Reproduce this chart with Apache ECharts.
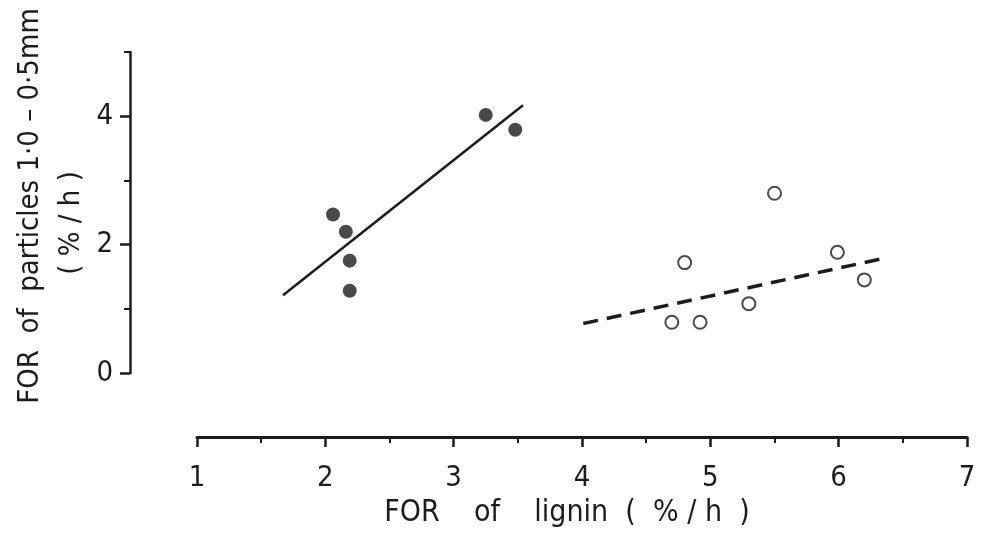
<!DOCTYPE html>
<html>
<head>
<meta charset="utf-8">
<script src="https://cdn.jsdelivr.net/npm/echarts@6/dist/echarts.min.js"></script>
<style>
html,body{margin:0;padding:0;background:#fff;}
#c{width:981px;height:540px;}
</style>
</head>
<body>
<div id="c"></div>
<script>
// Data
const filledX = [2.06, 2.16, 2.19, 2.19, 3.25, 3.48];
const filledY = [2.47, 2.20, 1.75, 1.28, 4.02, 3.79];
const openX = [4.70, 4.92, 4.80, 5.30, 5.50, 5.99, 6.20];
const openY = [0.79, 0.79, 1.72, 1.08, 2.80, 1.88, 1.45];
const solidLineX = [1.67, 3.54];
const solidLineY = [1.21, 4.17];
const dashLineX = [4.01, 6.36];
const dashLineY = [0.77, 1.79];
const xTicks = [1, 2, 3, 4, 5, 6, 7];
const yMajorTicks = [0, 2, 4];
const yMinorTicks = [1, 3, 5];
const xTitle = 'FOR    of    lignin  (  % / h  )';
const yTitle1 = 'FOR  of  particles 1·0 – 0·5mm';
const yTitle2 = '( % / h )';

const ink = '#1c1c1c';
const font = '"DejaVu Sans Condensed", "DejaVu Sans", sans-serif';
const pts = (xs, ys) => xs.map((x, i) => [x, ys[i]]);

const chart = echarts.init(document.getElementById('c'), null, {renderer: 'canvas'});
chart.setOption({
  backgroundColor: '#fff',
  animation: false,
  grid: {left: 197, right: 14, top: 52, bottom: 167, containLabel: false},
  xAxis: {
    type: 'value', min: xTicks[0], max: xTicks[xTicks.length - 1], interval: 1,
    offset: 64,
    axisLine: {show: true, onZero: false, lineStyle: {color: ink, width: 3}},
    axisTick: {show: true, length: 10, lineStyle: {color: ink, width: 2.5}},
    minorTick: {show: true, splitNumber: 2, length: 6, lineStyle: {color: ink, width: 2}},
    splitLine: {show: false},
    minorSplitLine: {show: false},
    axisLabel: {margin: 27, color: ink, fontSize: 29, fontFamily: font}
  },
  yAxis: [{
    type: 'value', min: 0, max: 5,
    offset: 67,
    axisLine: {show: true, onZero: false, lineStyle: {color: ink, width: 2.5}},
    axisTick: {show: true, length: 10, customValues: yMajorTicks, lineStyle: {color: ink, width: 2.5}},
    axisLabel: {show: true, customValues: yMajorTicks, margin: 17, color: ink, fontSize: 29, fontFamily: font},
    splitLine: {show: false}
  }, {
    type: 'value', min: 0, max: 5,
    offset: 67, position: 'left',
    axisLine: {show: false, onZero: false},
    axisTick: {show: true, length: 6, customValues: yMinorTicks, lineStyle: {color: ink, width: 2}},
    axisLabel: {show: false},
    splitLine: {show: false}
  }],
  series: [
    {
      type: 'line', data: pts(solidLineX, solidLineY), symbol: 'none',
      lineStyle: {color: ink, width: 2.5}, z: 2
    },
    {
      type: 'line', data: pts(dashLineX, dashLineY), symbol: 'none',
      lineStyle: {color: ink, width: 3.5, type: [15, 9]}, z: 2
    },
    {
      type: 'scatter', data: pts(filledX, filledY), symbol: 'circle', symbolSize: 14,
      itemStyle: {color: ink}, z: 3
    },
    {
      type: 'scatter', data: pts(openX, openY), symbol: 'circle', symbolSize: 13,
      itemStyle: {color: '#fff', borderColor: ink, borderWidth: 2}, z: 3
    }
  ],
  graphic: [
    {type: 'text', x: 567, y: 513,
      style: {text: xTitle, font: '30px ' + font, fill: ink, align: 'center', verticalAlign: 'middle'}},
    {type: 'text', x: 30, y: 206, rotation: Math.PI / 2,
      style: {text: yTitle1, font: '29px ' + font, fill: ink, align: 'center', verticalAlign: 'middle'}},
    {type: 'text', x: 71, y: 223, rotation: Math.PI / 2,
      style: {text: yTitle2, font: '29px ' + font, fill: ink, align: 'center', verticalAlign: 'middle'}}
  ]
});
</script>
</body>
</html>
